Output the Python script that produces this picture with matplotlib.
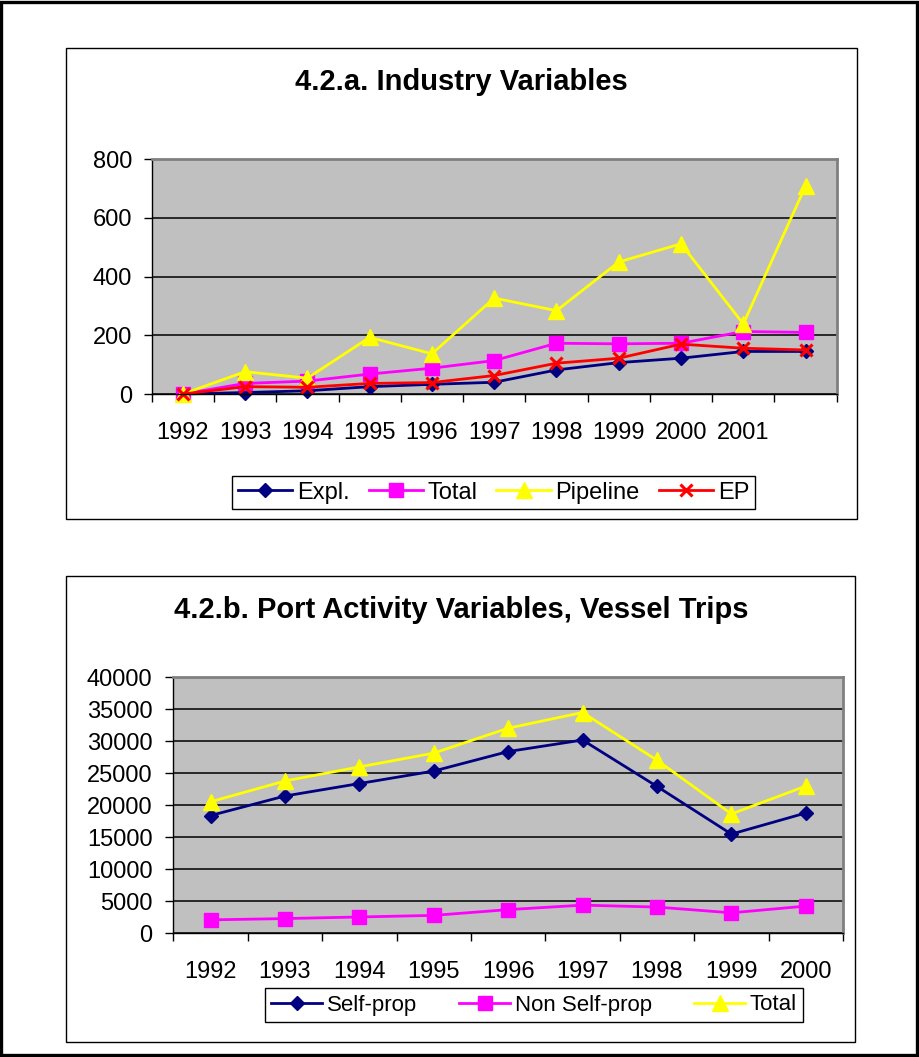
import matplotlib
matplotlib.use('Agg')
import matplotlib.pyplot as plt
from matplotlib.patches import Rectangle

plt.rcParams['font.family'] = ['Liberation Sans', 'DejaVu Sans']

# 4.2.a industry variables, 1992-2002 (last year has no label on the axis)
years_a = ['1992', '1993', '1994', '1995', '1996', '1997', '1998', '1999', '2000', '2001', '']
expl = [0, 5, 11, 25, 33, 40, 82, 107, 122, 145, 145]
total_a = [0, 36, 44, 68, 88, 114, 173, 171, 173, 213, 210]
pipeline = [0, 76, 54, 193, 137, 327, 284, 450, 512, 239, 709]
ep = [0, 25, 23, 36, 39, 63, 105, 122, 170, 156, 150]

# 4.2.b port activity, vessel trips
years_b = ['1992', '1993', '1994', '1995', '1996', '1997', '1998', '1999', '2000']
self_prop = [18400, 21450, 23400, 25350, 28400, 30200, 22950, 15500, 18800]
non_self_prop = [2100, 2300, 2550, 2800, 3700, 4400, 4100, 3200, 4250]
total_b = [20550, 23800, 26000, 28150, 32050, 34500, 27050, 18650, 23000]

NAVY = '#000080'
MAGENTA = '#ff00ff'
YELLOW = '#ffff00'
RED = '#ff0000'
PLOT_BG = '#c0c0c0'

W, H = 920, 1057
fig = plt.figure(figsize=(W / 100, H / 100), dpi=100)


def box(x0, y0, x1, y1):
    # pixel box (top-left origin) -> figure fraction rect
    return [x0 / W, 1 - y1 / H, (x1 - x0) / W, (y1 - y0) / H]


def frame(x0, y0, x1, y1, lw=1.0):
    l, b, w, h = box(x0, y0, x1, y1)
    fig.add_artist(Rectangle((l, b), w, h, transform=fig.transFigure,
                             fill=False, edgecolor='black', lw=lw))


def style_axes(ax, labels, ymax, step, ypad):
    n = len(labels)
    ax.set_facecolor(PLOT_BG)
    ax.set_xlim(-0.5, n - 0.5)
    ax.set_ylim(0, ymax)
    ax.set_yticks(range(0, ymax + 1, step))
    ax.yaxis.grid(True, color='black', lw=1.1)
    ax.set_axisbelow(True)
    ax.set_xticks(range(n))
    ax.set_xticklabels(labels)
    ax.set_xticks([i - 0.5 for i in range(n + 1)], minor=True)
    ax.tick_params(axis='x', which='major', length=0, pad=20, labelsize=17)
    ax.tick_params(axis='x', which='minor', length=6, width=1, direction='out')
    ax.tick_params(axis='y', length=6, width=1, direction='out', pad=ypad, labelsize=17)
    for side in ('top', 'right'):
        ax.spines[side].set_color('#808080')
        ax.spines[side].set_linewidth(2)
    for side in ('left', 'bottom'):
        ax.spines[side].set_color('black')
        ax.spines[side].set_linewidth(1)


def plot_series(ax, x, y, color, marker, size, label):
    kw = dict(color=color, lw=2, marker=marker, markersize=size,
              markerfacecolor=color, markeredgecolor=color, label=label, clip_on=False)
    if marker == 'x':
        kw['markeredgewidth'] = 2.2
    return ax.plot(x, y, **kw)[0]


# outer border and chart frames
frame(1.5, 1.5, 917, 1055, lw=2.4)
frame(66, 47.5, 857, 519)
frame(66, 575.5, 855, 1042)

# --- 4.2.a ---
ax1 = fig.add_axes(box(151.7, 159.3, 836.7, 394))
style_axes(ax1, years_a, 800, 200, 8)
xa = range(len(years_a))
h1 = [
    plot_series(ax1, xa, expl, NAVY, 'D', 7, 'Expl.'),
    plot_series(ax1, xa, total_a, MAGENTA, 's', 10, 'Total'),
    plot_series(ax1, xa, pipeline, YELLOW, '^', 11, 'Pipeline'),
    plot_series(ax1, xa, ep, RED, 'x', 9, 'EP'),
]
fig.text(461 / W, 1 - 82 / H, '4.2.a. Industry Variables', ha='center', va='center',
         fontsize=21, fontweight='bold')
fig.legend(handles=h1, loc='center', bbox_to_anchor=(493.5 / W, 1 - 492.5 / H),
           ncol=4, fontsize=17, frameon=True, fancybox=False, edgecolor='black',
           framealpha=1, handlelength=2.3, handletextpad=0.2, columnspacing=0.8,
           borderpad=0.25, borderaxespad=0)

# --- 4.2.b ---
ax2 = fig.add_axes(box(173.3, 677.3, 843, 933.3))
style_axes(ax2, years_b, 40000, 5000, 9)
xb = range(len(years_b))
h2 = [
    plot_series(ax2, xb, self_prop, NAVY, 'D', 7, 'Self-prop'),
    plot_series(ax2, xb, non_self_prop, MAGENTA, 's', 10, 'Non Self-prop'),
    plot_series(ax2, xb, total_b, YELLOW, '^', 11, 'Total'),
]
fig.text(461 / W, 1 - 610 / H, '4.2.b. Port Activity Variables, Vessel Trips',
         ha='center', va='center', fontsize=21, fontweight='bold')
fig.legend(handles=h2, loc='center', bbox_to_anchor=(534 / W, 1 - 1005 / H),
           ncol=3, fontsize=16, frameon=True, fancybox=False, edgecolor='black',
           framealpha=1, handlelength=2.3, handletextpad=0.2, columnspacing=1.9,
           borderpad=0.3, borderaxespad=0)

fig.savefig('out.png', dpi=100)
